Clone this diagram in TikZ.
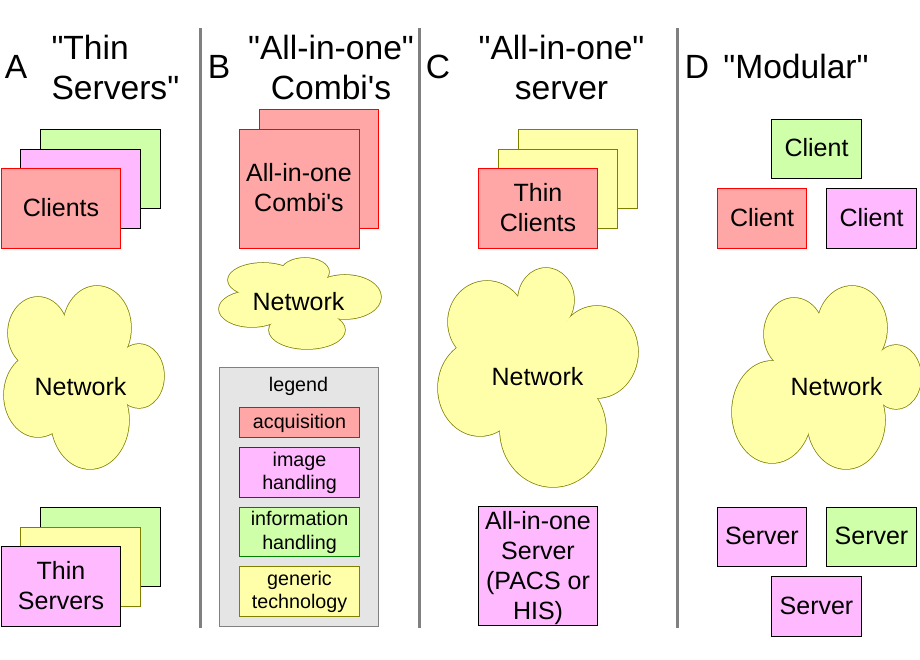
\documentclass[tikz,border=0pt]{standalone}
\usepackage{xcolor}
\usepackage{fontspec}
\newfontfamily\arial{Liberation Sans}

\definecolor{acqfill}{HTML}{FFA6A6}
\definecolor{imgfill}{HTML}{FFB9FF}
\definecolor{inffill}{HTML}{D0FFAA}
\definecolor{genfill}{HTML}{FFFFAA}
\definecolor{inkgray}{HTML}{808080}
\definecolor{legendgray}{HTML}{E5E5E5}
\definecolor{genline}{HTML}{808000}
\definecolor{infline}{HTML}{008000}
\definecolor{imgline}{HTML}{800080}

\tikzset{
  acq/.style={draw=red,fill=acqfill},
  img/.style={draw=black,fill=imgfill},
  inf/.style={draw=black,fill=inffill},
  gen/.style={draw=genline,fill=genfill},
  sheet/.style={line width=1pt,inner sep=0pt,align=center,minimum width=120pt,minimum height=79pt,text depth=3pt,
    font=\arial\fontsize{25}{30}\selectfont},
  front/.style={minimum width=119pt,minimum height=80pt},
  tile/.style={sheet,minimum width=90pt,minimum height=59pt},
  key/.style={line width=1pt,inner sep=0pt,align=center,minimum width=120pt,text depth=3pt,
    font=\arial\fontsize{19.7}{23.5}\selectfont},
  cloudline/.style={draw=genline,line width=1.5pt},
  cloudfill/.style={fill=genfill},
  cloudtext/.style={font=\arial\fontsize{25}{30}\selectfont},
  letter/.style={font=\arial\fontsize{33.6}{40}\selectfont},
  heading/.style={font=\arial\fontsize{33.6}{40}\selectfont,align=center},
  divider/.style={inkgray,line width=3pt}
}

% lobes as cx/cy/rx/ry, then the core polygon that closes the middle
\newcommand{\lobecloud}[2]{
  \foreach \cx/\cy/\rx/\ry in {#1}
    \draw[cloudline] (\cx,\cy) ellipse [x radius=\rx,y radius=\ry];
  \fill[cloudfill] #2 -- cycle;
  \foreach \cx/\cy/\rx/\ry in {#1}
    \fill[cloudfill] (\cx,\cy) ellipse [x radius=\rx,y radius=\ry];
}

\begin{document}
\begin{tikzpicture}[x=1pt,y=1pt]
  \useasboundingbox (0,0) rectangle (920,660);

  % dividers
  \draw[divider] (200,632) -- (200,32);
  \draw[divider] (419,632) -- (419,32);
  \draw[divider] (677,632) -- (677,32);

  % A
  \node[letter] (letterA) at (16,593) {A};
  \node[heading,align=left,anchor=west] (titleA) at (48,592) {"Thin\\Servers"};
  \node[sheet,inf] (clientsA3) at (100.5,491) {};
  \node[sheet,img] (clientsA2) at (80.5,471) {};
  \node[sheet,acq,front] (clientsA) at (61,451.5) {Clients};
  \lobecloud{38/327/30/36, 97/332/34/42, 139/284/25/32, 90/240/39/49, 38/265/34/42}
    {(64,340) -- (125,310) -- (124,259) -- (54,230) -- (21,298)}
  \node[cloudtext] (networkA) at (80.5,273) {Network};
  \node[sheet,inf] (serversA3) at (100.5,113) {};
  \node[sheet,gen] (serversA2) at (80.5,93) {};
  \node[sheet,img,front] (serversA) at (61,73.5) {Thin\\Servers};

  % B
  \node[letter] (letterB) at (219,593) {B};
  \node[heading] (titleB) at (331,592) {"All-in-one"\\Combi's};
  \node[sheet,acq,minimum width=119pt,minimum height=119pt] (combiB2) at (319,491) {};
  \node[sheet,acq,minimum height=119pt] (combiB) at (299,471) {All-in-one\\Combi's};
  \lobecloud{263/380/35/17, 305/388/24/14, 345/363/36/22, 307/330/38/19, 252/351/33/18}
    {(240,367) -- (284,392) -- (324,379) -- (337,344) -- (275,339)}
  \node[cloudtext] (networkB) at (298.5,358) {Network};

  % legend
  \node[draw=inkgray,fill=legendgray,line width=1pt,minimum width=159pt,minimum height=259pt,inner sep=0pt] (legendbox) at (299,163) {};
  \node[font=\arial\fontsize{19.7}{24}\selectfont,text depth=2pt] (legendtitle) at (298.5,275) {legend};
  \node[key,acq,minimum height=30pt] (keyacq) at (299.5,237.5) {acquisition};
  \node[key,img,draw=imgline,minimum height=50pt] (keyimg) at (299.5,187.5) {image\\handling};
  \node[key,inf,draw=infline,minimum height=49pt] (keyinf) at (299.5,128) {information\\handling};
  \node[key,gen,minimum height=50pt] (keygen) at (299.5,68.5) {generic\\technology};

  % C
  \node[letter] (letterC) at (438,593) {C};
  \node[heading] (titleC) at (561.5,592) {"All-in-one"\\server};
  \node[sheet,gen,minimum width=119pt] (thinC3) at (578,491) {};
  \node[sheet,gen,minimum width=119pt] (thinC2) at (558,471) {};
  \node[sheet,acq,front] (thinC) at (538,451.5) {Thin\\Clients};
  \lobecloud{487/338/39/41, 546/360/28/32, 597/308/41/46, 553/230/53/57, 480/272/42/48}
    {(462,309) -- (518,355) -- (566,338) -- (591,266) -- (503,233)}
  \node[cloudtext] (networkC) at (537.5,283) {Network};
  \node[sheet,img,minimum width=119pt,minimum height=119pt] (serverC) at (538,93.5) {All-in-one\\Server\\(PACS or\\HIS)};

  % D
  \node[letter] (letterD) at (697,593) {D};
  \node[heading] (titleD) at (796,593) {"Modular"};
  \node[tile,inf] (clientD1) at (816.5,511) {Client};
  \node[tile,acq,minimum width=89pt,minimum height=60pt] (clientD2) at (762,441.5) {Client};
  \node[tile,img,minimum height=60pt] (clientD3) at (871.5,441.5) {Client};
  \lobecloud{794/326/30/36, 852/332/35/42, 896/283/25/32, 846/240/39/49, 772/248/40/51}
    {(777,298) -- (820,341) -- (881,310) -- (880,257) -- (809,230)}
  \node[cloudtext] (networkD) at (836.5,273) {Network};
  \node[tile,img,minimum width=89pt] (serverD1) at (762,123) {Server};
  \node[tile,inf] (serverD2) at (871.5,123) {Server};
  \node[tile,img,minimum height=60pt,text depth=1pt] (serverD3) at (816.5,53.5) {Server};
\end{tikzpicture}
\end{document}
